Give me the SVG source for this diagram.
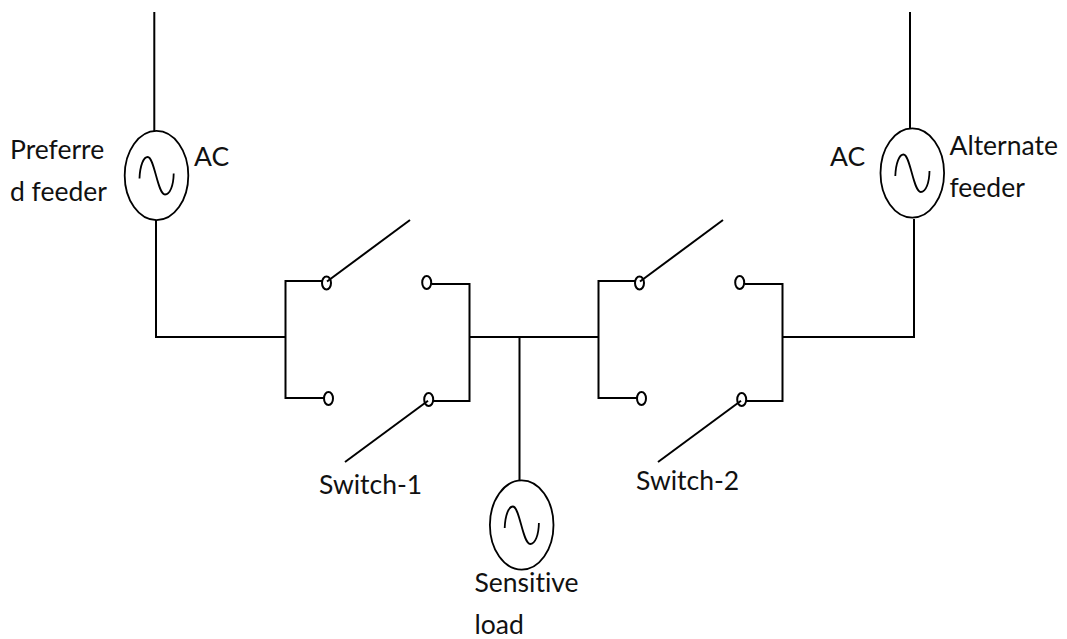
<svg xmlns="http://www.w3.org/2000/svg" xmlns:xlink="http://www.w3.org/1999/xlink" width="1067" height="639" viewBox="0 0 1067 639">
<style>
.w{fill:none;stroke:#000;stroke-width:2}
.t{fill:none;stroke:#000;stroke-width:1.8}
.c{fill:#fff;stroke:#000;stroke-width:2}
text{font-family:"Lato","Liberation Sans",sans-serif;font-size:26.500px;fill:#111;font-variant-ligatures:none}
</style>
<defs>
<g id="src"><ellipse class="t" cx="0" cy="0" rx="31.800" ry="44.600"/><path class="t" d="M-17 3C-16.500 -10 -13 -18.500 -8.800 -18.500C-2 -18.500 1 19 8.500 19C13.500 19 17 10 17.200 -2"/></g>
<g id="sw">
<path class="w" d="M129.500 337V281H166M129.500 337V398H168"/>
<path class="w" d="M276 284H313.500V401H276"/>
<ellipse class="c" cx="170.500" cy="283" rx="4.500" ry="6.500"/>
<ellipse class="c" cx="172.500" cy="398.500" rx="4.500" ry="6.500"/>
<ellipse class="c" cx="270.700" cy="282.500" rx="4.500" ry="6.500"/>
<ellipse class="c" cx="272.700" cy="399.500" rx="4.500" ry="6.500"/>
<path class="w" d="M171 281.500L254 220"/>
<path class="w" d="M272 400.700L189 462"/>
</g>
</defs>
<g id="connectors">
<path class="w" d="M154.300 12V131M156 220V337H286M469 337H598M519.500 337V480M782 337H914V219M910 12V128"/>
</g>
<g id="switch-1"><use xlink:href="#sw" href="#sw" x="156"/><text x="319" y="494">Switch-1</text></g>
<g id="switch-2"><use xlink:href="#sw" href="#sw" x="469"/><text x="636" y="490">Switch-2</text></g>
<g id="preferred-feeder"><use xlink:href="#src" href="#src" x="156.500" y="175.500"/><text x="10" y="159">Preferre</text><text x="10" y="200.500">d feeder</text><text x="194" y="166">AC</text></g>
<g id="alternate-feeder"><use xlink:href="#src" href="#src" x="912.300" y="173"/><text x="830" y="166">AC</text><text x="949.500" y="155">Alternate</text><text x="949.500" y="196.500">feeder</text></g>
<g id="sensitive-load"><use xlink:href="#src" href="#src" x="521.700" y="525"/><text x="474.500" y="592">Sensitive</text><text x="474.500" y="634">load</text></g>
</svg>
